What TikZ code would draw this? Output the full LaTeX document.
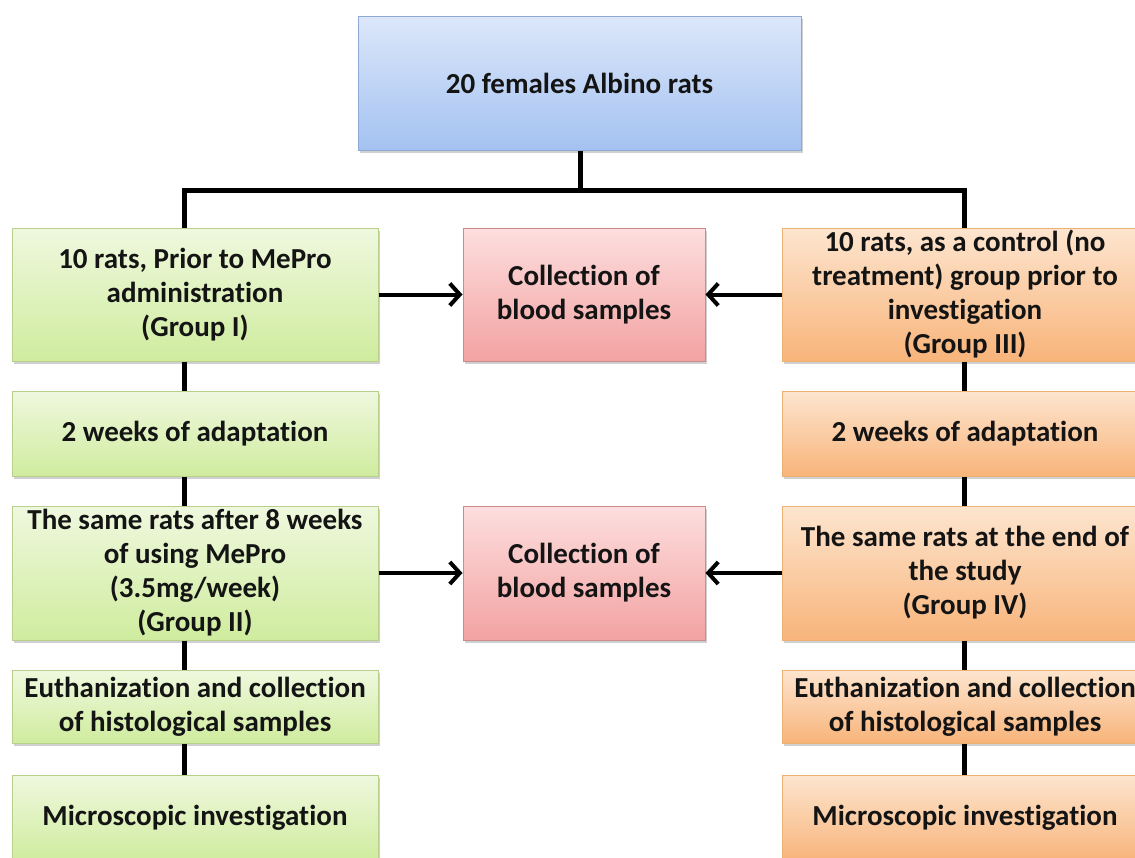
\documentclass[tikz,border=0pt]{standalone}
\usepackage{fontspec}
\setmainfont{Carlito}[Ligatures={NoCommon}]
\usetikzlibrary{arrows.meta,shadows}
\definecolor{bluetop}{HTML}{DCE7FA}
\definecolor{bluebot}{HTML}{A4C2F1}
\definecolor{blueline}{HTML}{8FA9D6}
\definecolor{greentop}{HTML}{EFF8DE}
\definecolor{greenbot}{HTML}{CFEC9E}
\definecolor{greenline}{HTML}{B9D08C}
\definecolor{pinktop}{HTML}{FDDEDE}
\definecolor{pinkbot}{HTML}{F3A2A2}
\definecolor{pinkline}{HTML}{C98C8C}
\definecolor{orangetop}{HTML}{FDE5CF}
\definecolor{orangebot}{HTML}{F8B47A}
\definecolor{orangeline}{HTML}{EDB174}
\tikzset{
  box/.style={rectangle, minimum width=366pt, inner sep=0pt, align=center,
    font=\fontsize{29}{34}\selectfont\bfseries, text=black!92,
    line width=1pt, shading=axis, shading angle=0,
    drop shadow={shadow xshift=2pt, shadow yshift=-3pt, opacity=0.3, fill=black!60}},
  bluebox/.style={box, draw=blueline, top color=bluetop, bottom color=bluebot},
  greenbox/.style={box, draw=greenline, top color=greentop, bottom color=greenbot},
  pinkbox/.style={box, draw=pinkline, top color=pinktop, bottom color=pinkbot},
  orangebox/.style={box, draw=orangeline, top color=orangetop, bottom color=orangebot},
  link/.style={line width=5pt, draw=black},
  arr/.style={line width=4pt, draw=black, -{Straight Barb[length=10pt,width=22pt,line width=4pt]}}
}
\begin{document}
\begin{tikzpicture}[x=1pt,y=-1pt]
\useasboundingbox (0,0) rectangle (1135,857);
\clip (0,0) rectangle (1135,857);
\fill[white] (0,0) rectangle (1135,857);

\coordinate (lx) at (184,0);
\coordinate (rx) at (964,0);
\coordinate (tx) at (580,0);
\coordinate (hy) at (0,190);

\node[bluebox, minimum width=443pt, minimum height=134pt] (top) at (579.5,83) {20 females Albino rats};

% left column
\node[greenbox, minimum height=133pt] (g1) at (195,294.5) {10 rats, Prior to MePro\\administration\\(Group I)};
\node[greenbox, minimum height=85pt] (g2) at (195,433.5) {2 weeks of adaptation};
\node[greenbox, minimum height=134pt] (g3) at (195,573) {The same rats after 8 weeks\\of using MePro\\(3.5mg/week)\\(Group II)};
\node[greenbox, minimum height=73pt] (g4) at (195,706.5) {Euthanization and collection\\of histological samples};
\node[greenbox, minimum height=86pt] (g5) at (195,818) {Microscopic investigation};

% right column
\node[orangebox, minimum height=133pt] (o1) at (965,294.5) {10 rats, as a control (no\\treatment) group prior to\\investigation\\(Group III)};
\node[orangebox, minimum height=85pt] (o2) at (965,433.5) {2 weeks of adaptation};
\node[orangebox, minimum height=134pt] (o3) at (965,573) {The same rats at the end of\\the study\\(Group IV)};
\node[orangebox, minimum height=73pt] (o4) at (965,706.5) {Euthanization and collection\\of histological samples};
\node[orangebox, minimum height=86pt] (o5) at (965,818) {Microscopic investigation};

% middle
\node[pinkbox, minimum width=242pt, minimum height=133pt] (p1) at (584,294.5) {Collection of\\blood samples};
\node[pinkbox, minimum width=242pt, minimum height=134pt] (p2) at (584,573) {Collection of\\blood samples};

% tree connectors
\draw[link] (top.south -| tx) -- (hy -| tx);
\draw[link] (g1.north -| lx) -- (hy -| lx) -- (hy -| rx) -- (o1.north -| rx);
\draw[link] (g1.south -| lx) -- (g2.north -| lx);
\draw[link] (g2.south -| lx) -- (g3.north -| lx);
\draw[link] (g3.south -| lx) -- (g4.north -| lx);
\draw[link] (g4.south -| lx) -- (g5.north -| lx);
\draw[link] (o1.south -| rx) -- (o2.north -| rx);
\draw[link] (o2.south -| rx) -- (o3.north -| rx);
\draw[link] (o3.south -| rx) -- (o4.north -| rx);
\draw[link] (o4.south -| rx) -- (o5.north -| rx);

% arrows
\draw[arr] (g1.east) -- (p1.west);
\draw[arr] (o1.west) -- (p1.east);
\draw[arr] (g3.east) -- (p2.west);
\draw[arr] (o3.west) -- (p2.east);
\end{tikzpicture}
\end{document}
